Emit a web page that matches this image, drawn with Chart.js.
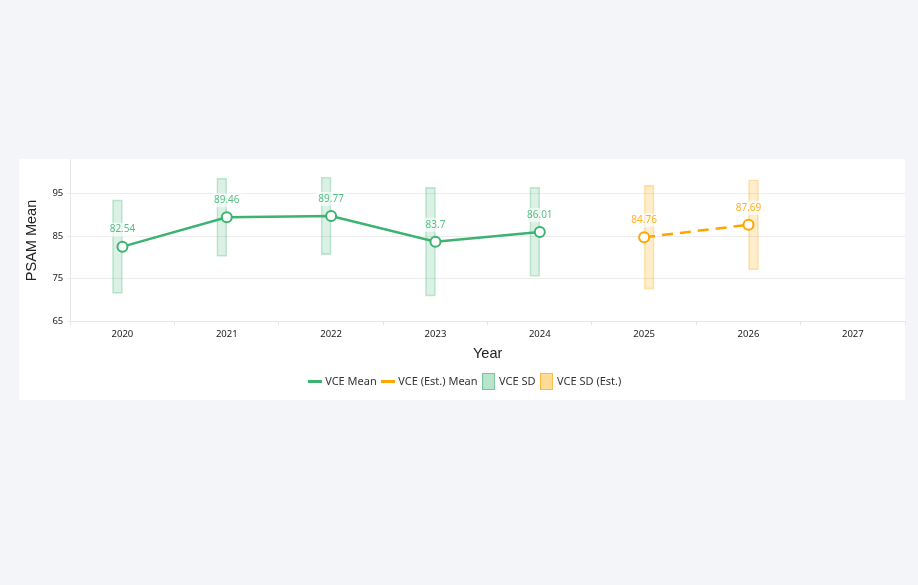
<!DOCTYPE html>
<html><head><meta charset="utf-8">
<script src="https://cdn.jsdelivr.net/npm/chart.js@4"></script>
<style>
html,body{margin:0;padding:0;background:#f4f5f9;width:918px;height:585px;overflow:hidden;}
#card{position:absolute;left:19px;top:159px;width:886px;height:241px;background:#fff;}
#wrap{position:absolute;left:19px;top:150px;width:893px;height:247px;}
</style></head><body>
<div id="card"></div>
<div id="wrap"><canvas id="c"></canvas></div>
<script>
const years = ['2020','2021','2022','2023','2024','2025','2026','2027'];
const vceMean = [82.54, 89.46, 89.77, 83.7, 86.01, null, null, null];
const vceSD = [11.0, 9.2, 9.1, 12.8, 10.5, null, null, null];
const estMean = [null, null, null, null, null, 84.76, 87.69, null];
const estSD = [null, null, null, null, null, 12.2, 10.6, null];
const yTicks = [65, 75, 85, 95];

const GREEN = 'rgb(60,179,113)';
const ORANGE = 'rgb(255,165,0)';

function range(mean, sd) {
  return mean.map((m, i) => (m == null || sd[i] == null) ? null : [m - sd[i], m + sd[i]]);
}

function lineIcon(color) {
  const c = document.createElement('canvas');
  c.width = 14; c.height = 3;
  const g = c.getContext('2d');
  g.fillStyle = color; g.fillRect(0, 0, 14, 3);
  return c;
}
function boxIcon(fill, stroke) {
  const c = document.createElement('canvas');
  c.width = 13; c.height = 17;
  const g = c.getContext('2d');
  g.fillStyle = fill; g.fillRect(0, 0, 13, 17);
  g.strokeStyle = stroke; g.lineWidth = 1; g.strokeRect(0.5, 0.5, 12, 16);
  return c;
}

const labelPlugin = {
  id: 'pointLabels',
  afterDatasetsDraw(chart) {
    const ctx = chart.ctx;
    ctx.save();
    ctx.font = '10px "Noto Sans", sans-serif';
    ctx.textAlign = 'center';
    ctx.textBaseline = 'middle';
    [0, 1].forEach(di => {
      const ds = chart.data.datasets[di];
      const meta = chart.getDatasetMeta(di);
      meta.data.forEach((pt, i) => {
        const v = ds.data[i];
        if (v == null) return;
        const txt = String(v);
        const w = ctx.measureText(txt).width + 6;
        const x = pt.x, y = pt.y - 17;
        ctx.fillStyle = 'rgba(255,255,255,0.65)';
        ctx.beginPath();
        ctx.roundRect(x - w / 2, y - 7, w, 14, 2);
        ctx.fill();
        ctx.fillStyle = di === 0 ? 'rgba(60,179,113,0.85)' : 'rgba(255,165,0,0.85)';
        ctx.fillText(txt, x, y);
      });
    });
    ctx.restore();
  }
};

new Chart(document.getElementById('c'), {
  type: 'bar',
  data: {
    labels: years,
    datasets: [
      { type: 'line', label: 'VCE Mean', data: vceMean, order: 0,
        borderColor: GREEN, borderWidth: 2.5, backgroundColor: '#fff',
        pointRadius: 5, pointBorderWidth: 2, pointBackgroundColor: '#fff', pointBorderColor: GREEN,
        spanGaps: false, tension: 0 },
      { type: 'line', label: 'VCE (Est.) Mean', data: estMean, order: 0,
        borderColor: ORANGE, borderWidth: 2.5, borderDash: [11, 7], backgroundColor: '#fff',
        pointRadius: 5, pointBorderWidth: 2, pointBackgroundColor: '#fff', pointBorderColor: ORANGE,
        tension: 0 },
      { type: 'bar', label: 'VCE SD', data: range(vceMean, vceSD), order: 1,
        backgroundColor: 'rgba(60,179,113,0.18)', borderColor: 'rgba(60,179,113,0.3)', borderWidth: 1,
        barThickness: 10, borderSkipped: false },
      { type: 'bar', label: 'VCE SD (Est.)', data: range(estMean, estSD), order: 1,
        backgroundColor: 'rgba(255,165,0,0.2)', borderColor: 'rgba(255,165,0,0.3)', borderWidth: 1,
        barThickness: 10, borderSkipped: false }
    ]
  },
  options: {
    responsive: true,
    maintainAspectRatio: false,
    animation: false,
    layout: { padding: 0 },
    plugins: {
      tooltip: { enabled: false },
      legend: {
        position: 'bottom',
        labels: {
          usePointStyle: true,
          pointStyleWidth: 10,
          padding: 6,
          color: '#333',
          font: { family: '"Noto Sans", sans-serif', size: 11 },
          generateLabels() {
            return [
              { text: 'VCE Mean', pointStyle: lineIcon(GREEN), fillStyle: GREEN, strokeStyle: GREEN, lineWidth: 0, hidden: false, datasetIndex: 0, fontColor: '#333' },
              { text: 'VCE (Est.) Mean', pointStyle: lineIcon(ORANGE), fillStyle: ORANGE, strokeStyle: ORANGE, lineWidth: 0, hidden: false, datasetIndex: 1, fontColor: '#333' },
              { text: 'VCE SD', pointStyle: boxIcon('rgba(60,179,113,0.35)', 'rgba(60,179,113,0.55)'), fillStyle: GREEN, strokeStyle: GREEN, lineWidth: 0, hidden: false, datasetIndex: 2, fontColor: '#333' },
              { text: 'VCE SD (Est.)', pointStyle: boxIcon('rgba(255,165,0,0.4)', 'rgba(255,165,0,0.6)'), fillStyle: ORANGE, strokeStyle: ORANGE, lineWidth: 0, hidden: false, datasetIndex: 3, fontColor: '#333' }
            ];
          }
        }
      }
    },
    scales: {
      x: {
        offset: true,
        grid: { display: true, drawOnChartArea: false, offset: true, tickLength: 4, color: '#e6e6e6' },
        border: { display: true, color: '#e6e6e6' },
        ticks: { color: '#222', padding: 3, font: { family: '"Noto Sans", sans-serif', size: 9.5 } },
        title: { display: true, text: 'Year', color: '#222', padding: { top: 3, bottom: 7 }, font: { family: '"Liberation Sans", Arial, sans-serif', size: 14.5 } }
      },
      y: {
        min: 65,
        max: 103,
        afterBuildTicks(scale) { scale.ticks = yTicks.map(v => ({ value: v })); },
        grid: { color: '#ececec', tickLength: 3 },
        border: { display: true, color: '#e6e6e6' },
        ticks: { color: '#222', padding: 4, font: { family: '"Noto Sans", sans-serif', size: 9.5 } },
        title: { display: true, text: 'PSAM Mean', color: '#222', padding: { top: 4, bottom: 8 }, font: { family: '"Liberation Sans", Arial, sans-serif', size: 14.5 } }
      }
    }
  },
  plugins: [labelPlugin]
});
</script>
</body></html>
